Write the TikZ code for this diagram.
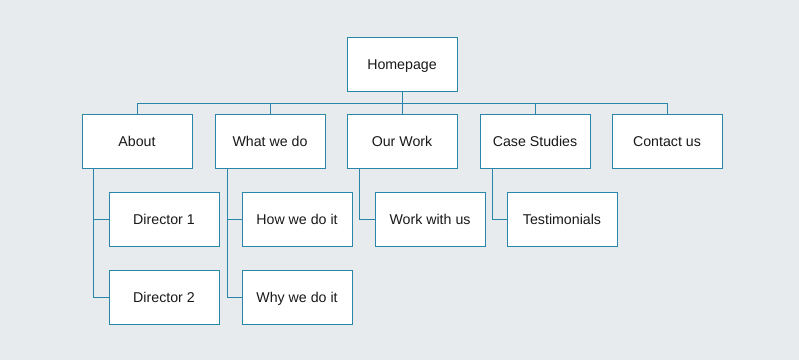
\documentclass[tikz,border=0pt]{standalone}
\usepackage{fontspec}
\setmainfont{Liberation Sans}
\begin{document}
\begin{tikzpicture}[x=1pt,y=-1pt,
  pg/.style={draw=edgec,fill=white,line width=1pt,minimum width=110pt,minimum height=54pt,inner sep=0pt,text height=10.2pt,text depth=0.2pt,font=\fontsize{14.2}{17}\selectfont,text=black!90},
  ln/.style={draw=edgec,line width=1pt}]
\definecolor{edgec}{HTML}{2A86A8}
\definecolor{bgc}{HTML}{E8EBEE}
\fill[bgc] (0,0) rectangle (799,360);
\useasboundingbox (0,0) rectangle (799,360);
\node[pg] (home) at (402,64) {Homepage};
\node[pg] (about) at (137,141) {About};
\node[pg] (what) at (270,141) {What we do};
\node[pg] (work) at (402,141) {Our Work};
\node[pg] (case) at (535,141) {Case Studies};
\node[pg] (contact) at (667,141) {Contact us};
\node[pg] (d1) at (164,219) {Director 1};
\node[pg] (d2) at (164,297) {Director 2};
\node[pg] (how) at (297,219) {How we do it};
\node[pg] (why) at (297,297) {Why we do it};
\node[pg] (wwu) at (430,219) {Work with us};
\node[pg] (test) at (562,219) {Testimonials};
\coordinate (bus) at (402,103);
\draw[ln] (home.south) -- (bus);
\draw[ln] (about.north) |- (bus) -| (contact.north);
\draw[ln] (what.north) |- (bus);
\draw[ln] (work.north) -- (bus);
\draw[ln] (case.north) |- (bus);
\draw[ln] ([xshift=-44pt]about.south) |- (d2.west);
\draw[ln] ([xshift=-44pt]about.south) |- (d1.west);
\draw[ln] ([xshift=-43pt]what.south) |- (why.west);
\draw[ln] ([xshift=-43pt]what.south) |- (how.west);
\draw[ln] ([xshift=-43pt]work.south) |- (wwu.west);
\draw[ln] ([xshift=-43pt]case.south) |- (test.west);
\end{tikzpicture}
\end{document}
